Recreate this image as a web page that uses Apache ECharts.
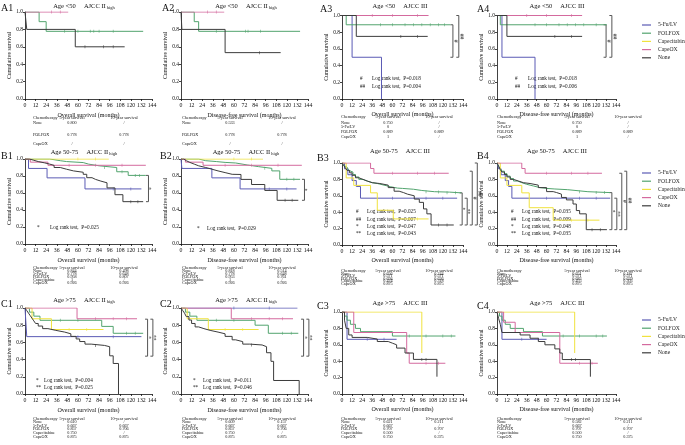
<!DOCTYPE html>
<html><head><meta charset="utf-8">
<script src="https://cdn.jsdelivr.net/npm/echarts@6/dist/echarts.min.js"></script>
<style>html,body{margin:0;padding:0;background:#fff}#c{width:685px;height:445px}</style>
</head><body><div id="c"></div><script>
// ---------------- DATA (step points: [month, survival]) ----------------
const seriesNames = ['5-Fu/LV','FOLFOX','Capecitabine','CapeOX','None'];
const xTicks = [0,12,24,36,48,60,72,84,96,108,120,132,144];

const A1_none   = [[0,1],[2,0.8],[57,0.6],[113,0.6]];
const A1_folfox = [[0,1],[16,0.889],[24,0.778],[134,0.778]];
const A1_capeox = [[0,1],[49,1]];

const A2_none   = [[0,1],[1,0.8],[50,0.533],[113,0.533]];
const A2_folfox = [[0,1],[15,0.889],[20,0.778],[135,0.778]];
const A2_capeox = [[0,1],[49,1]];

const A3_fu     = [[0,1],[12,0.5],[47,0]];
const A3_folfox = [[0,1],[5,0.889],[129,0.889]];
const A3_none   = [[0,1],[17,0.75],[102,0.75]];
const A3_capeox = [[0,1],[103,1]];

const A4_fu     = [[0,1],[6,0.5],[46,0]];
const A4_folfox = [[0,1],[4,0.889],[133,0.889]];
const A4_none   = [[0,1],[12,0.75],[103,0.75]];
const A4_capeox = [[0,1],[103,1]];

const B1_fu     = [[0,1],[4,0.889],[25,0.778],[68,0.648],[132,0.648]];
const B1_folfox = [[0,1],[28,0.98],[40,0.97],[47,0.958],[66,0.94],[72,0.92],[84,0.9],[104,0.85],[117,0.807],[137,0.807]];
const B1_cape   = [[0,1],[95,1]];
const B1_capeox = [[0,1],[6,0.963],[26,0.926],[137,0.926]];
const B1_none   = [[0,1],[5,0.985],[10,0.97],[15,0.955],[22,0.94],[28,0.925],[33,0.9],[40,0.88],[47,0.86],[55,0.844],[66,0.82],[70,0.78],[76,0.76],[80,0.74],[86,0.72],[93,0.66],[102,0.58],[111,0.498],[134,0.498]];

const B2_fu     = [[0,1],[1,0.889],[35,0.778],[67,0.648],[131,0.648]];
const B2_folfox = [[0,1],[20,0.98],[28,0.97],[40,0.96],[50,0.953],[62,0.93],[75,0.91],[88,0.89],[103,0.86],[112,0.761],[135,0.761]];
const B2_cape   = [[0,1],[93,1]];
const B2_capeox = [[0,1],[5,0.963],[25,0.926],[137,0.926]];
const B2_none   = [[0,1],[3,0.98],[6,0.96],[10,0.94],[15,0.92],[20,0.9],[28,0.88],[35,0.86],[42,0.84],[50,0.82],[58,0.818],[68,0.76],[80,0.7],[95,0.63],[109,0.514],[133,0.514]];

const B3_fu     = [[0,1],[3,0.929],[7,0.857],[12,0.786],[17,0.714],[22,0.571],[137,0.571]];
const B3_folfox = [[0,1],[2,0.97],[4,0.95],[6,0.93],[8,0.91],[10,0.89],[13,0.86],[16,0.83],[20,0.8],[25,0.78],[30,0.76],[36,0.75],[42,0.73],[50,0.71],[58,0.694],[66,0.69],[72,0.68],[85,0.665],[95,0.65],[110,0.645],[128,0.636],[142,0.636]];
const B3_cape   = [[0,1],[5,0.818],[14,0.727],[34,0.636],[42,0.424],[61,0.318],[103,0.318]];
const B3_capeox = [[0,1],[34,0.933],[38,0.875],[127,0.875]];
const B3_none   = [[0,1],[2,0.97],[4,0.94],[6,0.91],[9,0.88],[12,0.85],[16,0.82],[20,0.8],[25,0.78],[30,0.76],[36,0.75],[45,0.73],[55,0.7],[62,0.656],[68,0.64],[73,0.62],[78,0.6],[86,0.56],[92,0.52],[97,0.44],[101,0.38],[106,0.244],[133,0.244]];

const B4_fu     = [[0,1],[2,0.929],[5,0.857],[10,0.786],[14,0.714],[18,0.571],[137,0.571]];
const B4_folfox = [[0,1],[2,0.96],[4,0.93],[6,0.9],[9,0.87],[12,0.84],[16,0.81],[20,0.78],[25,0.76],[30,0.74],[36,0.72],[44,0.7],[52,0.69],[60,0.683],[70,0.675],[85,0.66],[100,0.65],[110,0.639],[137,0.639]];
const B4_cape   = [[0,1],[4,0.818],[12,0.727],[30,0.636],[39,0.455],[68,0.303],[124,0.303]];
const B4_capeox = [[0,1],[30,0.933],[34,0.875],[127,0.875]];
const B4_none   = [[0,1],[2,0.96],[4,0.92],[6,0.89],[9,0.86],[12,0.83],[16,0.8],[20,0.78],[26,0.76],[32,0.75],[40,0.73],[50,0.7],[60,0.651],[68,0.64],[72,0.62],[78,0.58],[84,0.55],[92,0.5],[96,0.42],[100,0.38],[108,0.187],[133,0.187]];

const C1_fu     = [[0,1],[2,0.667],[132,0.667]];
const C1_folfox = [[0,1],[5,0.952],[10,0.905],[17,0.857],[87,0.786],[100,0.706],[134,0.706]];
const C1_cape   = [[0,1],[8,0.875],[30,0.75],[89,0.75]];
const C1_capeox = [[0,1],[59,0.875],[127,0.875]];
const C1_none   = [[0,1],[2,0.97],[4,0.94],[6,0.91],[8,0.88],[10,0.85],[12,0.82],[15,0.79],[20,0.76],[26,0.74],[35,0.72],[45,0.7],[52,0.67],[58,0.64],[62,0.61],[68,0.58],[75,0.565],[90,0.55],[96,0.444],[100,0.355],[106,0]];

const C2_fu     = [[0,1],[132,1]];
const C2_folfox = [[0,1],[5,0.952],[10,0.905],[18,0.857],[84,0.8],[99,0.706],[133,0.706]];
const C2_cape   = [[0,1],[7,0.875],[31,0.75],[88,0.75]];
const C2_capeox = [[0,1],[57,0.875],[127,0.875]];
const C2_none   = [[0,1],[2,0.97],[4,0.94],[6,0.9],[9,0.86],[12,0.82],[16,0.78],[20,0.76],[26,0.74],[33,0.72],[42,0.7],[50,0.67],[58,0.63],[62,0.609],[70,0.58],[78,0.57],[92,0.55],[97,0.48],[102,0.38],[105,0.157],[134,0]];

const C3_fu     = [[0,1],[6,0.667],[65,0.667]];
const C3_folfox = [[0,1],[3,0.95],[6,0.9],[10,0.85],[16,0.8],[22,0.76],[60,0.707],[135,0.707]];
const C3_cape   = [[0,1],[95,0.5]];
const C3_capeox = [[0,1],[14,0.75],[77,0.5],[80,0.375],[123,0.375]];
const C3_none   = [[0,1],[3,0.9],[5,0.8],[8,0.72],[12,0.69],[30,0.67],[42,0.64],[55,0.62],[60,0.6],[65,0.56],[75,0.5],[85,0.422],[113,0.211]];

const C4_fu     = [[0,1],[6,0.667],[60,0.667]];
const C4_folfox = [[0,1],[3,0.95],[6,0.9],[10,0.85],[16,0.8],[32,0.76],[55,0.707],[133,0.707]];
const C4_cape   = [[0,1],[94,0.5]];
const C4_capeox = [[0,1],[8,0.875],[22,0.75],[76,0.375],[122,0.375]];
const C4_none   = [[0,1],[2,0.92],[4,0.85],[6,0.75],[28,0.72],[40,0.68],[50,0.64],[58,0.6],[70,0.55],[76,0.5],[79,0.42],[113,0.211]];

// censoring ticks: [group, month, survival]
const A1_cens = [['none',68,0.6],['none',89,0.6],['none',100,0.6],['folfox',45,0.778],['folfox',60,0.778],['folfox',74,0.778],['folfox',78,0.778],['folfox',84,0.778],['folfox',100,0.778],['capeox',30,1],['capeox',40,1]];
const A2_cens = [['none',89,0.533],['folfox',40,0.778],['folfox',73,0.778],['folfox',76,0.778],['folfox',90,0.778],['capeox',30,1],['capeox',40,1]];
const A3_cens = [['folfox',46,0.889],['folfox',60,0.889],['folfox',75,0.889],['folfox',85,0.889],['folfox',95,0.889],['folfox',105,0.889],['folfox',115,0.889],['folfox',122,0.889],['none',70,0.75],['none',90,0.75],['capeox',36,1],['capeox',60,1],['capeox',90,1]];
const A4_cens = [['folfox',46,0.889],['folfox',60,0.889],['folfox',75,0.889],['folfox',85,0.889],['folfox',95,0.889],['folfox',105,0.889],['folfox',120,0.889],['none',70,0.75],['none',90,0.75],['capeox',36,1],['capeox',60,1],['capeox',90,1]];
const B1_cens = [['folfox',90,0.9],['folfox',110,0.85],['folfox',125,0.807],['folfox',130,0.807],['capeox',50,0.926],['capeox',80,0.926],['capeox',110,0.926],['fu',100,0.648],['fu',120,0.648],['none',120,0.498],['none',128,0.498],['cape',60,1],['cape',80,1]];
const B2_cens = [['folfox',95,0.89],['folfox',120,0.761],['folfox',128,0.761],['capeox',50,0.926],['capeox',80,0.926],['capeox',110,0.926],['fu',100,0.648],['fu',120,0.648],['none',118,0.514],['none',126,0.514],['cape',60,1],['cape',80,1]];
const B3_cens = [['folfox',100,0.65],['folfox',115,0.645],['folfox',125,0.636],['folfox',135,0.636],['capeox',60,0.875],['capeox',90,0.875],['capeox',110,0.875],['fu',60,0.571],['fu',100,0.571],['fu',120,0.571],['cape',80,0.318],['cape',90,0.318],['none',115,0.244],['none',125,0.244]];
const B4_cens = [['folfox',100,0.65],['folfox',120,0.639],['folfox',130,0.639],['capeox',60,0.875],['capeox',90,0.875],['capeox',110,0.875],['fu',60,0.571],['fu',100,0.571],['fu',120,0.571],['cape',90,0.303],['cape',110,0.303],['none',115,0.187],['none',125,0.187]];
const C1_cens = [['capeox',80,0.875],['capeox',100,0.875],['capeox',115,0.875],['folfox',40,0.857],['folfox',60,0.857],['folfox',115,0.706],['folfox',125,0.706],['cape',50,0.75],['cape',70,0.75],['fu',60,0.667],['fu',100,0.667],['none',80,0.565]];
const C2_cens = [['capeox',80,0.875],['capeox',100,0.875],['capeox',115,0.875],['folfox',40,0.857],['folfox',60,0.857],['folfox',115,0.706],['folfox',125,0.706],['cape',50,0.75],['cape',70,0.75],['fu',60,1],['fu',100,1],['none',80,0.57]];
const C3_cens = [['folfox',80,0.707],['folfox',100,0.707],['folfox',120,0.707],['folfox',130,0.707],['none',95,0.422],['none',100,0.422],['capeox',100,0.375],['capeox',115,0.375],['fu',30,0.667],['fu',50,0.667]];
const C4_cens = [['folfox',80,0.707],['folfox',100,0.707],['folfox',120,0.707],['folfox',128,0.707],['none',90,0.42],['none',95,0.42],['capeox',100,0.375],['capeox',115,0.375],['fu',30,0.667],['fu',50,0.667]];

// survival tables: [group, 5-year, 10-year]
const A1_table = [['None','0.800','/'],['FOLFOX','0.778','0.778'],['CapeOX','/','/']];
const A2_table = [['None','0.533','/'],['FOLFOX','0.778','0.778'],['CapeOX','/','/']];
const A3_table = [['None','0.750','/'],['5-Fu/LV','0','/'],['FOLFOX','0.889','0.889'],['CapeOX','1','/']];
const A4_table = [['None','0.750','/'],['5-Fu/LV','0','/'],['FOLFOX','0.889','0.889'],['CapeOX','1','/']];
const B1_table = [['None','0.844','0.498'],['5-Fu/LV','0.778','0.648'],['FOLFOX','0.958','0.807'],['Capecitabine','1','/'],['CapeOX','0.926','0.926']];
const B2_table = [['None','0.818','0.514'],['5-Fu/LV','0.778','0.648'],['FOLFOX','0.953','0.761'],['Capecitabine','1','/'],['CapeOX','0.926','0.926']];
const B3_table = [['None','0.656','0.244'],['5-Fu/LV','0.571','0.571'],['FOLFOX','0.694','0.636'],['Capecitabine','0.424','0.318'],['CapeOX','0.875','0.875']];
const B4_table = [['None','0.651','0.187'],['5-Fu/LV','0.571','0.571'],['FOLFOX','0.683','0.639'],['Capecitabine','0.455','0.303'],['CapeOX','0.875','0.875']];
const C1_table = [['None','0.610','/'],['5-Fu/LV','0.667','0.667'],['FOLFOX','0.857','0.706'],['Capecitabine','0.750','/'],['CapeOX','0.875','0.875']];
const C2_table = [['None','0.609','0.157'],['5-Fu/LV','0.667','0.667'],['FOLFOX','0.857','0.706'],['Capecitabine','0.750','/'],['CapeOX','0.875','0.875']];
const C3_table = [['None','0.621','0.211'],['5-Fu/LV','0.667','/'],['FOLFOX','0.707','0.707'],['Capecitabine','0.500','/'],['CapeOX','0.750','0.375']];
const C4_table = [['None','0.582','0.211'],['5-Fu/LV','0.667','/'],['FOLFOX','0.707','0.707'],['Capecitabine','0.500','/'],['CapeOX','0.750','0.375']];

// log-rank annotations
const A3_logrank = [['#','Log rank test,  P=0.018'],['##','Log rank test,  P=0.004']];
const A4_logrank = [['#','Log rank test,  P=0.018'],['##','Log rank test,  P=0.006']];
const B1_logrank = [['*','Log rank test,  P=0.025']];
const B2_logrank = [['*','Log rank test,  P=0.029']];
const B3_logrank = [['#','Log rank test,  P=0.025'],['##','Log rank test,  P=0.007'],['*','Log rank test,  P=0.047'],['**','Log rank test,  P=0.043']];
const B4_logrank = [['#','Log rank test,  P=0.035'],['##','Log rank test,  P=0.009'],['*','Log rank test,  P=0.048'],['**','Log rank test,  P=0.035']];
const C1_logrank = [['*','Log rank test,  P=0.004'],['**','Log rank test,  P=0.025']];
const C2_logrank = [['*','Log rank test,  P=0.011'],['**','Log rank test,  P=0.046']];

// significance brackets: [month, survival top, survival bottom, mark]
const A3_brackets = [[132,0.889,0.5,'#'],[139,1.0,0.5,'##']];
const A4_brackets = [[132,0.889,0.5,'#'],[139,1.0,0.5,'##']];
const B1_brackets = [[140,0.807,0.498,'*']];
const B2_brackets = [[140,0.761,0.514,'*']];
const B3_brackets = [[143,0.636,0.244,'*'],[149,0.571,0.244,'**'],[155,0.9,0.244,'#'],[161,1.0,0.244,'##']];
const B4_brackets = [[139,0.639,0.187,'*'],[145,0.571,0.187,'**'],[151,0.875,0.187,'#'],[157,0.9,0.187,'##']];
const C1_brackets = [[139,0.87,0.44,'*'],[145,0.87,0.44,'**']];
const C2_brackets = [[139,0.87,0.44,'*'],[145,0.87,0.44,'**']];

// ---------------- LAYOUT ----------------
const FONT = 'Liberation Serif';
const KEYS = ['fu','folfox','cape','capeox','none'];
const NAMES = {fu:'5-Fu/LV', folfox:'FOLFOX', cape:'Capecitabine', capeox:'CapeOX', none:'None'};
const COLORS = {fu:'#5b5bb5', folfox:'#52a46e', cape:'#f0e23e', capeox:'#d46a9e', none:'#3c3c3c'};

const colX = [25,181,342,497], colW = [127,127,121,119];
const rowTop = [[12,12,15.5,15.5],[159,159,163,163],[308,308,312,312]];
const rowBot = [[99,99,99,99],[244,244,245,245],[394,394,394,394]];
const titleY = [[6,6,6,6],[152,152,151,151],[300,300,303,303]];
const titleCX = [84,246,400,557];
const labelPos = {A1:[1,8],A2:[162,8],A3:[320,9],A4:[477,9],B1:[1,156],B2:[160,156],B3:[317,158],B4:[477,156],C1:[1,304],C2:[160,304],C3:[317,306],C4:[477,306]};
const tabX = [[33,72,124],[182,230,282],[341,388,439],[497,577,628]];
const tabRows = {A12:[118,[123,135,144]], A34:[117,[122.5,127.3,132,136.7]], B12:[268,[271,274,277,280,283]], B34:[270.5,[273.5,276,278.5,281,283.5]], C:[419,[422,425.5,429,433,437]]};
const logPos = {A3:[18,30,79,8],A4:[18,31,79,8],B1:[12,25,228,0],B2:[16,26,229,0],B3:[14,25,212,7.3],B4:[14,25,212,7.3],C1:[11,19,381,7],C2:[12,22,381,7]};

const PANELS = [
 {id:'A1',r:0,c:0,age:'Age <50',stage:'AJCC II',sub:'high',os:true, curves:{folfox:A1_folfox,capeox:A1_capeox,none:A1_none}, cens:A1_cens, table:A1_table, tab:'A12'},
 {id:'A2',r:0,c:1,age:'Age <50',stage:'AJCC II',sub:'high',os:false,curves:{folfox:A2_folfox,capeox:A2_capeox,none:A2_none}, cens:A2_cens, table:A2_table, tab:'A12'},
 {id:'A3',r:0,c:2,age:'Age <50',stage:'AJCC III',sub:'',os:true, curves:{fu:A3_fu,folfox:A3_folfox,capeox:A3_capeox,none:A3_none}, cens:A3_cens, table:A3_table, tab:'A34', log:A3_logrank, br:A3_brackets},
 {id:'A4',r:0,c:3,age:'Age <50',stage:'AJCC III',sub:'',os:false,curves:{fu:A4_fu,folfox:A4_folfox,capeox:A4_capeox,none:A4_none}, cens:A4_cens, table:A4_table, tab:'A34', log:A4_logrank, br:A4_brackets},
 {id:'B1',r:1,c:0,age:'Age 50-75',stage:'AJCC II',sub:'high',os:true, curves:{fu:B1_fu,folfox:B1_folfox,cape:B1_cape,capeox:B1_capeox,none:B1_none}, cens:B1_cens, table:B1_table, tab:'B12', log:B1_logrank, br:B1_brackets},
 {id:'B2',r:1,c:1,age:'Age 50-75',stage:'AJCC II',sub:'high',os:false,curves:{fu:B2_fu,folfox:B2_folfox,cape:B2_cape,capeox:B2_capeox,none:B2_none}, cens:B2_cens, table:B2_table, tab:'B12', log:B2_logrank, br:B2_brackets},
 {id:'B3',r:1,c:2,age:'Age 50-75',stage:'AJCC III',sub:'',os:true, curves:{fu:B3_fu,folfox:B3_folfox,cape:B3_cape,capeox:B3_capeox,none:B3_none}, cens:B3_cens, table:B3_table, tab:'B34', log:B3_logrank, br:B3_brackets},
 {id:'B4',r:1,c:3,age:'Age 50-75',stage:'AJCC III',sub:'',os:false,curves:{fu:B4_fu,folfox:B4_folfox,cape:B4_cape,capeox:B4_capeox,none:B4_none}, cens:B4_cens, table:B4_table, tab:'B34', log:B4_logrank, br:B4_brackets},
 {id:'C1',r:2,c:0,age:'Age >75',stage:'AJCC II',sub:'high',os:true, curves:{fu:C1_fu,folfox:C1_folfox,cape:C1_cape,capeox:C1_capeox,none:C1_none}, cens:C1_cens, table:C1_table, tab:'C', log:C1_logrank, br:C1_brackets},
 {id:'C2',r:2,c:1,age:'Age >75',stage:'AJCC II',sub:'high',os:false,curves:{fu:C2_fu,folfox:C2_folfox,cape:C2_cape,capeox:C2_capeox,none:C2_none}, cens:C2_cens, table:C2_table, tab:'C', log:C2_logrank, br:C2_brackets},
 {id:'C3',r:2,c:2,age:'Age >75',stage:'AJCC III',sub:'',os:true, curves:{fu:C3_fu,folfox:C3_folfox,cape:C3_cape,capeox:C3_capeox,none:C3_none}, cens:C3_cens, table:C3_table, tab:'C'},
 {id:'C4',r:2,c:3,age:'Age >75',stage:'AJCC III',sub:'',os:false,curves:{fu:C4_fu,folfox:C4_folfox,cape:C4_cape,capeox:C4_capeox,none:C4_none}, cens:C4_cens, table:C4_table, tab:'C'}
];

const chart = echarts.init(document.getElementById('c'), null, {renderer:'canvas'});
const option = {animation:false, backgroundColor:'#fff', grid:[], xAxis:[], yAxis:[], series:[], legend:[], graphic:[]};
const T = (x,y,text,size,align,extra) => Object.assign({type:'text', x:x, y:y, silent:true, style:Object.assign({text:text, fontFamily:FONT, fontSize:size, fill:'#111', align:align||'left', verticalAlign:'middle'}, extra||{})});

PANELS.forEach((p,i)=>{
  const r=p.r, c=p.c;
  option.grid.push({left:colX[c], top:rowTop[r][c], width:colW[c], height:rowBot[r][c]-rowTop[r][c]});
  option.xAxis.push({gridIndex:i, type:'value', min:0, max:144, interval:12,
    name: p.os ? 'Overall survival (months)' : 'Disease-free survival (months)',
    nameLocation:'middle', nameGap: (c<2?13:12), nameTextStyle:{fontFamily:FONT, fontSize:6, color:'#111'},
    axisLine:{lineStyle:{color:'#111', width:0.8}}, axisTick:{length:2, lineStyle:{color:'#111', width:0.8}},
    axisLabel:{fontFamily:FONT, fontSize:5.8, color:'#111', margin:3, customValues:xTicks}, splitLine:{show:false}});
  option.yAxis.push({gridIndex:i, type:'value', min:0, max:1, interval:0.2,
    name:'Cumulative survival', nameLocation:'middle', nameGap:12, nameRotate:90,
    nameTextStyle:{fontFamily:FONT, fontSize:5.8, color:'#111'},
    axisLine:{show:true, lineStyle:{color:'#111', width:0.8}}, axisTick:{show:true, length:2, lineStyle:{color:'#111', width:0.8}},
    axisLabel:{fontFamily:FONT, fontSize:5.5, color:'#111', margin:2, formatter:v=>v.toFixed(1)}, splitLine:{show:false}});
  KEYS.forEach(k=>{
    if(!p.curves[k]) return;
    option.series.push({type:'line', name:NAMES[k], xAxisIndex:i, yAxisIndex:i, data:p.curves[k], step:'end',
      symbol:'none', showSymbol:false, silent:true, lineStyle:{width:1, color:COLORS[k]}, itemStyle:{color:COLORS[k]}});
    const cz = (p.cens||[]).filter(e=>e[0]===k).map(e=>[e[1],e[2]]);
    if(cz.length) option.series.push({type:'scatter', xAxisIndex:i, yAxisIndex:i, data:cz, symbol:'rect', symbolSize:[0.7,3],
      silent:true, itemStyle:{color:COLORS[k]}});
  });
  if(p.br){
    const br = p.br;
    option.series.push({type:'custom', xAxisIndex:i, yAxisIndex:i, clip:false, silent:true,
      data: br.map(b=>[b[0],b[1],b[2]]),
      renderItem:(params, api)=>{
        const a = api.coord([api.value(0), api.value(1)]), b = api.coord([api.value(0), api.value(2)]);
        const mark = br[params.dataIndex][3];
        return {type:'group', children:[
          {type:'polyline', shape:{points:[[a[0]-2.5,a[1]],[a[0],a[1]],[b[0],b[1]],[b[0]-2.5,b[1]]]}, style:{stroke:'#555', fill:null, lineWidth:1}},
          {type:'text', x:a[0]+3.5, y:(a[1]+b[1])/2, rotation:Math.PI/2, style:{text:mark, fontFamily:FONT, fontSize:5.5, fill:'#111', align:'center', verticalAlign:'middle'}}
        ]};
      }});
  }
  // panel label & title
  const lp = labelPos[p.id];
  option.graphic.push(T(lp[0], lp[1], p.id, 10, 'left'));
  option.graphic.push({type:'text', x:titleCX[c], y:titleY[r][c], silent:true,
    style:{text:'{a|'+p.age+'     '+p.stage+'}'+(p.sub?'{s| '+p.sub+'}':''), align:'center', verticalAlign:'middle',
      rich:{a:{fontFamily:FONT, fontSize:6.5, fill:'#111'}, s:{fontFamily:FONT, fontSize:4.5, fill:'#111', padding:[3,0,0,0]}}}});
  // table
  const tr = tabRows[p.tab], tx = tabX[c];
  option.graphic.push(T(tx[0], tr[0], 'Chemotherapy', 4.2, 'left'));
  option.graphic.push(T(tx[1], tr[0], '5-year survival', 4.2, 'center'));
  option.graphic.push(T(tx[2], tr[0], '10-year survival', 4.2, 'center'));
  p.table.forEach((row,j)=>{
    const y = tr[1][j];
    option.graphic.push(T(tx[0], y, row[0], 4.2, 'left'));
    option.graphic.push(T(tx[1], y, row[1], 4.2, 'center'));
    option.graphic.push(T(tx[2], y, row[2], 4.2, 'center'));
  });
  // log rank
  if(p.log){
    const lg = logPos[p.id];
    p.log.forEach((l,j)=>{
      const y = lg[2] + j*lg[3];
      option.graphic.push(T(colX[c]+lg[0], y, l[0], 5.2, 'left'));
      option.graphic.push(T(colX[c]+lg[1], y, l[1], 5.2, 'left'));
    });
  }
});

[17,165,312].forEach(top=>{
  option.legend.push({data:seriesNames, orient:'vertical', left:637, top:top, itemWidth:9, itemHeight:1.2, itemGap:2.2,
    icon:'rect', selectedMode:false, textStyle:{fontFamily:FONT, fontSize:5.6, color:'#222', padding:[0,0,0,2]}});
});

chart.setOption(option);
</script></body></html>
